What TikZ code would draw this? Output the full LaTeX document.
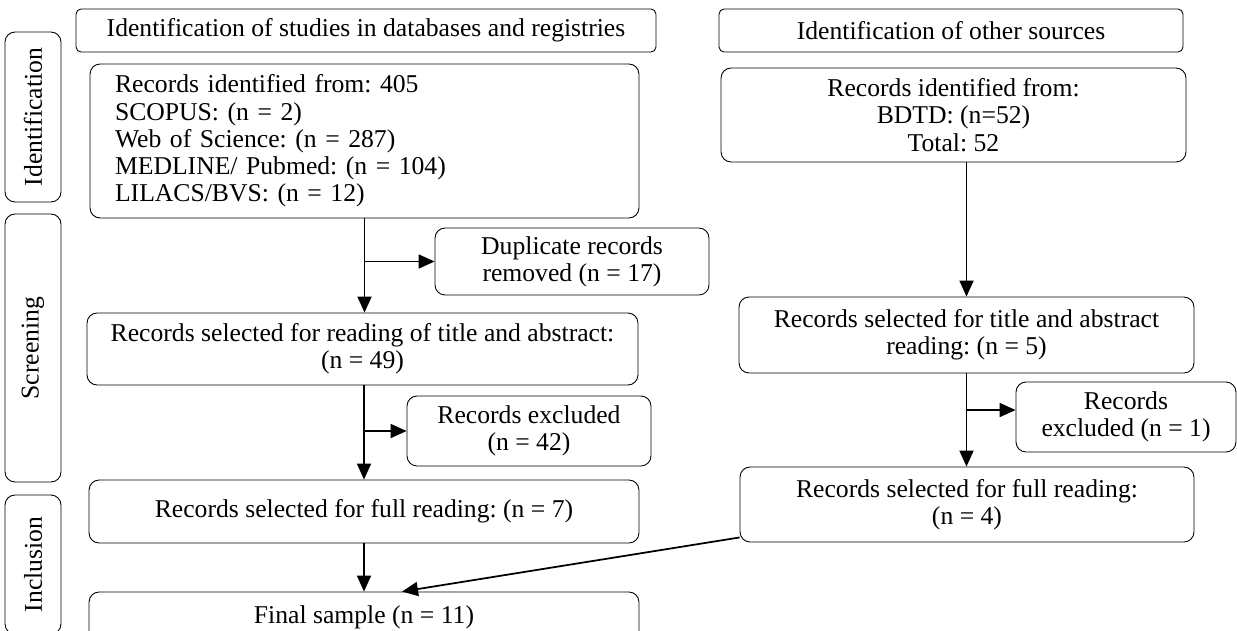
\documentclass[tikz,border=0pt]{standalone}
\usepackage{fontspec}
\setmainfont{Liberation Serif}
\usetikzlibrary{arrows.meta}
\frenchspacing

\begin{document}
\begin{tikzpicture}[x=0.02cm, y=-0.02cm,
    every node/.style={draw, rounded corners=0.2cm, line width=0.5pt, inner sep=2pt, align=center, font=\fontsize{14.6}{15.5}\selectfont},
    flecha/.style={line width=1pt, -{Triangle[length=0.32cm, width=0.28cm]}}]
    \useasboundingbox (0,0) rectangle (1237,630);

    % Nodos
    \node[rounded corners=0.1cm, minimum width=11.6cm, minimum height=0.86cm] (A) at (366,30.5) {Identification of studies in databases and registries};
    \node[rounded corners=0.1cm, minimum width=9.28cm, minimum height=0.86cm] (B) at (951,30.5) {Identification of other sources};
    \node[align=left, text width=9.98cm, inner xsep=0.5cm, minimum height=3.08cm] (C) at (364.5,141) {Records identified from: 405\\SCOPUS: (n = 2)\\Web of Science: (n = 287)\\MEDLINE/ Pubmed: (n = 104)\\LILACS/BVS: (n = 12)};
    \node[minimum width=9.3cm, minimum height=1.88cm] (D) at (953.5,115) {Records identified from:\\BDTD: (n=52)\\Total: 52};
    \node[minimum width=5.48cm, minimum height=1.34cm] (E) at (572,261.5) {Duplicate records\\removed (n = 17)};
    \node[minimum width=11.02cm, minimum height=1.44cm] (F) at (362.5,349) {Records selected for reading of title and abstract:\\(n = 49)};
    \node[minimum width=9.1cm, minimum height=1.52cm] (G) at (966.5,335) {Records selected for title and abstract\\reading: (n = 5)};
    \node[minimum width=4.88cm, minimum height=1.4cm] (H) at (529,431) {Records excluded\\(n = 42)};
    \node[minimum width=4.4cm, minimum height=1.4cm] (I) at (1126,417) {Records\\excluded (n = 1)};
    \node[minimum width=11cm, minimum height=1.26cm] (J) at (364,511.5) {Records selected for full reading: (n = 7)};
    \node[minimum width=9.08cm, minimum height=1.5cm] (K) at (967,504.5) {Records selected for full reading:\\(n = 4)};
    \node[minimum width=11cm, minimum height=1cm] (L) at (364,617) {Final sample (n = 11)};
    \node[rotate=90, minimum width=3.4cm, minimum height=1.12cm] (M) at (33,117) {Identification};
    \node[rotate=90, minimum width=5.36cm, minimum height=1.12cm] (N) at (33,348) {Screening};
    \node[rotate=90, minimum width=2.78cm, minimum height=1.12cm] (O) at (33,564.5) {Inclusion};
    \coordinate (P) at ([yshift=0.14cm]I.west);

    % Conexiones
    \draw[flecha] (C.south) -- (C.south |- F.north);
    \draw[flecha] (C.south |- E.west) -- (E.west);
    \draw[flecha] (F.south -| J.north) -- (J.north);
    \draw[flecha] (J.north |- H.west) -- (H.west);
    \draw[flecha] (J.south) -- (L.north);
    \draw[flecha] (D.south -| G.north) -- (G.north);
    \draw[flecha] (G.south) -- (G.south |- K.north);
    \draw[flecha] (G.south |- P) -- (P);
    \draw[flecha] ([yshift=0.1cm]K.south west) -- ([xshift=0.76cm]L.north);

\end{tikzpicture}
\end{document}
